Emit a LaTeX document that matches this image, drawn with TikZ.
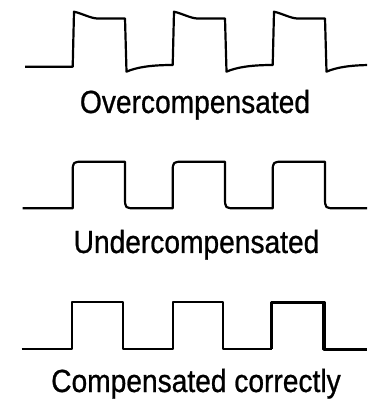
\documentclass[tikz,border=0pt]{standalone}
\usepackage{fontspec}
\newfontfamily\captionfont{Liberation Sans}[FakeStretch=0.88, FakeBold=0.8]
\usepackage{tikz}

\tikzset{
    trace/.style={line width=2.2pt, line join=round, black},
    tracebold/.style={line width=3.2pt, line join=round, black},
    caption/.style={anchor=base, inner sep=0pt, font=\captionfont\fontsize{32}{36}\selectfont}
}

\begin{document}
\begin{tikzpicture}[x=1pt, y=1pt]
    \clip (0,0) rectangle (367,401);
    \def\period{100}
    \def\overBase{334.3}
    \def\underBase{192.7}
    \def\underTop{239.3}
    \def\rightBase{51.7}
    \def\rightTop{98.7}
    % overcompensated
    \draw[trace] (25,\overBase) -- (72.7,\overBase)
        foreach \x in {0,100,200} {
            -- (\x+74,389.3) .. controls (\x+82,387.5) and (\x+90,383) .. (\x+97,382.5)
            -- (\x+125,382.5) -- (\x+126.5,329.3)
            .. controls (\x+136,333.5) and (\x+150,336) .. (\x+172.7,336)
        };
    \node[caption] (labelOver) at (195,288) {Overcompensated};
    % undercompensated
    \draw[trace] (22.7,\underBase) -- (72.7,\underBase)
        foreach \x in {0,100,200} {
            -- (\x+72.7,\underTop-11) .. controls (\x+72.7,\underTop) .. (\x+84,\underTop)
            -- (\x+125,\underTop) -- (\x+125,\underBase+11)
            .. controls (\x+125,\underBase) .. (\x+136,\underBase) -- (\x+172.7,\underBase)
        };
    \node[caption] (labelUnder) at (196.5,148) {Undercompensated};
    % compensated correctly
    \draw[trace] (21.7,\rightBase) -- (71.7,\rightBase) -- (71.7,\rightTop) -- (122.7,\rightTop)
        -- (122.7,\rightBase) -- (172.7,\rightBase) -- (172.7,\rightTop) -- (223.3,\rightTop)
        -- (223.3,\rightBase) -- (271.7,\rightBase);
    \draw[tracebold] (271.7,\rightBase) -- (271.7,\rightTop) -- (324,\rightTop)
        -- (324,\rightBase) -- (367,\rightBase);
    \node[caption] (labelRight) at (196,9) {Compensated correctly};
\end{tikzpicture}
\end{document}
